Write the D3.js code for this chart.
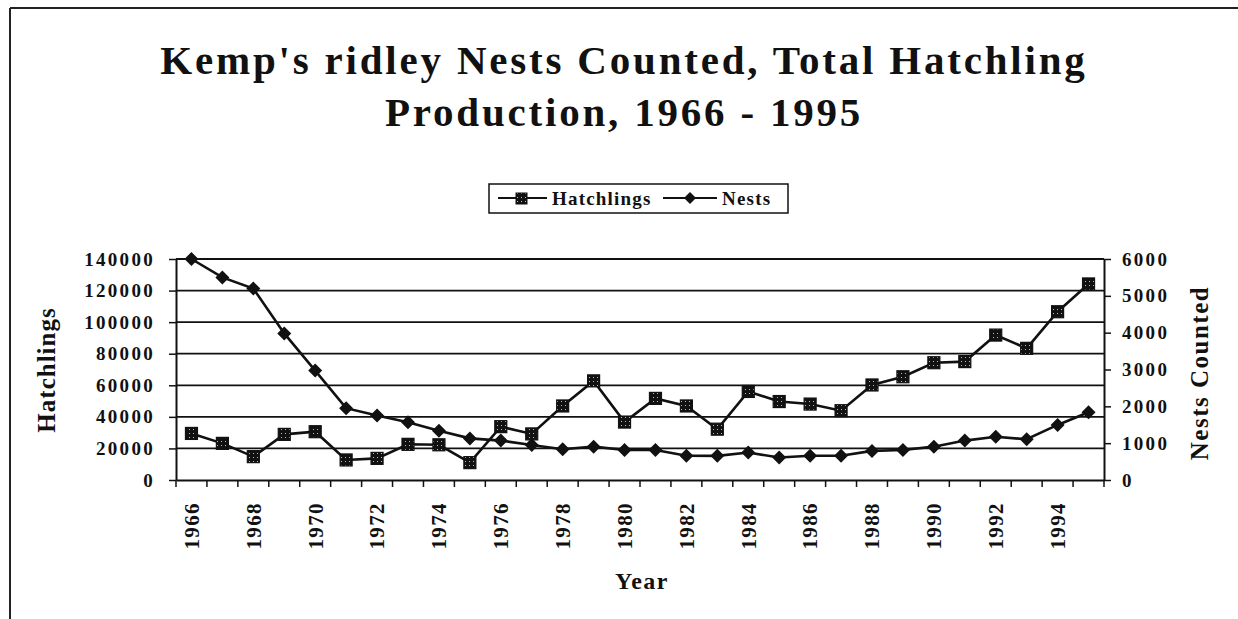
<!DOCTYPE html>
<html>
<head>
<meta charset="utf-8">
<script src="https://cdn.jsdelivr.net/npm/d3@7"></script>
<style>
  body { margin: 0; background: #fff; }
  svg { display: block; }
  text { font-family: "Liberation Serif", "Times New Roman", serif; font-weight: bold; fill: #111; }
</style>
</head>
<body>
<div id="chart"></div>
<script>
// data
var years = d3.range(1966, 1996);
var hatchlings = [29500, 23200, 14800, 28900, 30600, 12700, 13700, 22600, 22300, 11000,
  33800, 29200, 46900, 62800, 36700, 51700, 46900, 32200, 56100, 49700,
  48100, 43900, 60200, 65400, 74300, 75000, 91800, 83400, 106600, 124200];
var nests = [6000, 5500, 5200, 3980, 2970, 1950, 1750, 1570, 1340, 1130,
  1070, 950, 835, 905, 815, 815, 660, 655, 745, 610,
  660, 660, 790, 815, 905, 1070, 1175, 1105, 1495, 1840];
var leftTicks = [0, 20000, 40000, 60000, 80000, 100000, 120000, 140000];
var rightTicks = [0, 1000, 2000, 3000, 4000, 5000, 6000];
var yearLabels = years.filter(function (d) { return (d - 1966) % 2 === 0; });
var titleLines = ["Kemp's ridley Nests Counted, Total Hatchling", "Production, 1966 - 1995"];

var svgWidth = 1238;
var svgHeight = 619;

// plot area
var plot = { left: 176, right: 1104, top: 259, bottom: 480 };

var svg = d3.select('#chart').append('svg')
  .attr('width', svgWidth)
  .attr('height', svgHeight);

// dotted fill for the square markers
var defs = svg.append('defs');
var pat = defs.append('pattern')
  .attr('id', 'speck')
  .attr('patternUnits', 'userSpaceOnUse')
  .attr('width', 4).attr('height', 4);
pat.append('rect').attr('width', 4).attr('height', 4).attr('fill', '#111');
pat.append('rect').attr('x', 1).attr('y', 1).attr('width', 1).attr('height', 1).attr('fill', '#bbb');

// page frame (top + left edge only, as in the scan)
svg.append('line').attr('x1', 10).attr('y1', 8).attr('x2', svgWidth).attr('y2', 8)
  .attr('stroke', '#222').attr('stroke-width', 2);
svg.append('line').attr('x1', 10).attr('y1', 8).attr('x2', 10).attr('y2', svgHeight)
  .attr('stroke', '#222').attr('stroke-width', 2);

// title
svg.selectAll('.title')
  .data(titleLines)
  .enter()
  .append('text')
  .attr('class', 'title')
  .attr('x', 624)
  .attr('y', function (d, i) { return 74 + i * 52; })
  .attr('text-anchor', 'middle')
  .attr('font-size', '41px')
  .attr('letter-spacing', '2.8px')
  .text(function (d) { return d; });

// scales
var x = d3.scaleBand().domain(years).range([plot.left, plot.right]);
var yLeft = d3.scaleLinear().domain([0, 140000]).range([plot.bottom, plot.top]);
var yRight = d3.scaleLinear().domain([0, 6000]).range([plot.bottom, plot.top]);
var cx = function (d) { return x(d) + x.bandwidth() / 2; };

// gridlines
svg.append('g')
  .selectAll('line')
  .data(leftTicks.slice(1))
  .enter()
  .append('line')
  .attr('x1', plot.left).attr('x2', plot.right)
  .attr('y1', function (d) { return yLeft(d); })
  .attr('y2', function (d) { return yLeft(d); })
  .attr('stroke', '#111')
  .attr('stroke-width', 1.8);

// left axis
var leftAxis = svg.append('g')
  .attr('transform', 'translate(' + plot.left + ',0)')
  .call(d3.axisLeft(yLeft).tickValues(leftTicks).tickFormat(d3.format('d'))
    .tickSize(7).tickPadding(14).tickSizeOuter(0));

// right axis
var rightAxis = svg.append('g')
  .attr('transform', 'translate(' + plot.right + ',0)')
  .call(d3.axisRight(yRight).tickValues(rightTicks).tickFormat(d3.format('d'))
    .tickSize(7).tickPadding(11).tickSizeOuter(0));

[leftAxis, rightAxis].forEach(function (ax) {
  ax.select('.domain').attr('stroke', '#111').attr('stroke-width', 2);
  ax.selectAll('.tick line').attr('stroke', '#111').attr('stroke-width', 1.5);
  ax.selectAll('.tick text')
    .attr('font-size', '19px')
    .attr('letter-spacing', '2.3px')
    .attr('font-family', '"Liberation Serif", serif')
    .attr('fill', '#111');
});

// bottom axis: labels every other year, ticks at category edges
var bottomAxis = svg.append('g')
  .attr('transform', 'translate(0,' + plot.bottom + ')')
  .call(d3.axisBottom(x).tickValues(yearLabels).tickSize(0).tickSizeOuter(0));
bottomAxis.select('.domain').attr('stroke', '#111').attr('stroke-width', 2);
bottomAxis.selectAll('.tick text')
  .attr('transform', 'rotate(-90)')
  .attr('x', -22)
  .attr('y', 0)
  .attr('dy', '0.35em')
  .attr('text-anchor', 'end')
  .attr('font-size', '21px')
  .attr('letter-spacing', '1.4px')
  .attr('font-family', '"Liberation Serif", serif')
  .attr('fill', '#111');

bottomAxis.selectAll('.edge')
  .data(years.concat([null]))
  .enter()
  .append('line')
  .attr('class', 'edge')
  .attr('x1', function (d) { return d === null ? plot.right : x(d); })
  .attr('x2', function (d) { return d === null ? plot.right : x(d); })
  .attr('y1', 0).attr('y2', 7)
  .attr('stroke', '#111')
  .attr('stroke-width', 1.5);

// axis titles
svg.append('text')
  .attr('transform', 'translate(55,370) rotate(-90)')
  .attr('text-anchor', 'middle')
  .attr('font-size', '25px')
  .attr('letter-spacing', '1px')
  .text('Hatchlings');

svg.append('text')
  .attr('transform', 'translate(1208,373) rotate(-90)')
  .attr('text-anchor', 'middle')
  .attr('font-size', '25px')
  .attr('letter-spacing', '1.5px')
  .text('Nests Counted');

svg.append('text')
  .attr('x', 642)
  .attr('y', 589)
  .attr('text-anchor', 'middle')
  .attr('font-size', '24px')
  .attr('letter-spacing', '1.5px')
  .text('Year');

// series
var diamond = function (s) {
  return 'M0,' + (-s) + 'L' + s + ',0L0,' + s + 'L' + (-s) + ',0Z';
};

var hatchLine = d3.line()
  .x(function (d, i) { return cx(years[i]); })
  .y(function (d) { return yLeft(d); });
var nestLine = d3.line()
  .x(function (d, i) { return cx(years[i]); })
  .y(function (d) { return yRight(d); });

svg.append('path')
  .datum(nests)
  .attr('d', nestLine)
  .attr('fill', 'none')
  .attr('stroke', '#111')
  .attr('stroke-width', 2.6);

svg.append('path')
  .datum(hatchlings)
  .attr('d', hatchLine)
  .attr('fill', 'none')
  .attr('stroke', '#111')
  .attr('stroke-width', 2.6);

svg.append('g')
  .selectAll('path')
  .data(nests)
  .enter()
  .append('path')
  .attr('transform', function (d, i) { return 'translate(' + cx(years[i]) + ',' + yRight(d) + ')'; })
  .attr('d', diamond(7))
  .attr('fill', '#111');

svg.append('g')
  .selectAll('rect')
  .data(hatchlings)
  .enter()
  .append('rect')
  .attr('x', function (d, i) { return cx(years[i]) - 6; })
  .attr('y', function (d) { return yLeft(d) - 6; })
  .attr('width', 12)
  .attr('height', 12)
  .attr('fill', 'url(#speck)')
  .attr('stroke', '#111')
  .attr('stroke-width', 1.2);

// legend
var legend = svg.append('g');
legend.append('rect')
  .attr('x', 489).attr('y', 184)
  .attr('width', 299).attr('height', 29)
  .attr('fill', 'none')
  .attr('stroke', '#111')
  .attr('stroke-width', 1.5);

legend.append('line').attr('x1', 498).attr('x2', 547).attr('y1', 198).attr('y2', 198)
  .attr('stroke', '#111').attr('stroke-width', 1.8);
legend.append('rect').attr('x', 516).attr('y', 193).attr('width', 11).attr('height', 11)
  .attr('fill', 'url(#speck)').attr('stroke', '#111').attr('stroke-width', 1);
legend.append('text').attr('x', 552).attr('y', 205)
  .attr('font-size', '19px').attr('letter-spacing', '1.2px')
  .text('Hatchlings');

legend.append('line').attr('x1', 663).attr('x2', 717).attr('y1', 198).attr('y2', 198)
  .attr('stroke', '#111').attr('stroke-width', 1.8);
legend.append('path').attr('transform', 'translate(690,198)')
  .attr('d', diamond(6)).attr('fill', '#111');
legend.append('text').attr('x', 722).attr('y', 205)
  .attr('font-size', '19px').attr('letter-spacing', '1.2px')
  .text('Nests');
</script>
</body>
</html>
